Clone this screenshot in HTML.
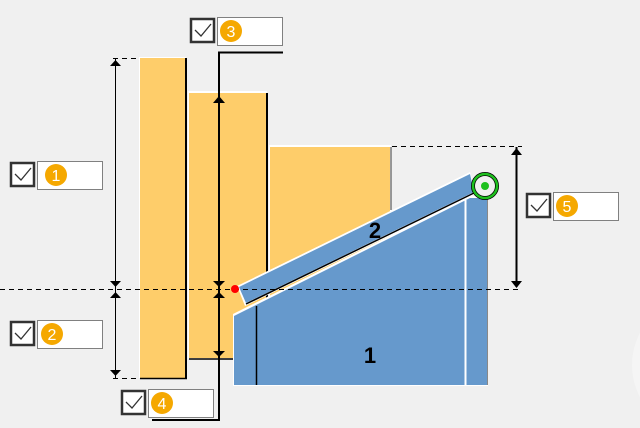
<!DOCTYPE html>
<html><head><style>
html,body{margin:0;padding:0;background:#f0f0f0;}
svg{display:block;font-family:"Liberation Sans",sans-serif;}
</style></head><body>
<svg width="640" height="428" viewBox="0 0 640 428" xmlns="http://www.w3.org/2000/svg">
<rect width="640" height="428" fill="#f0f0f0"/>
<circle cx="700" cy="365" r="68" fill="#f5f5f5"/>
<!-- bars -->
<rect x="139" y="57" width="47" height="321" fill="#fff"/>
<rect x="140" y="58" width="45" height="320" fill="#fecd6a"/>
<line x1="186" y1="58" x2="186" y2="379" stroke="#000" stroke-width="2"/>
<line x1="140" y1="378.5" x2="187" y2="378.5" stroke="#000" stroke-width="1.5"/>
<rect x="188" y="91" width="79" height="268" fill="#fff"/>
<rect x="189" y="93" width="77" height="265" fill="#fecd6a"/>
<line x1="267" y1="93" x2="267" y2="360" stroke="#000" stroke-width="2"/>
<line x1="189" y1="359" x2="268" y2="359" stroke="#000" stroke-width="1.5"/>
<rect x="269" y="145" width="122" height="160" fill="#fff"/>
<rect x="270" y="147" width="120" height="160" fill="#fecd6a"/>
<line x1="391" y1="147" x2="391" y2="210" stroke="#777" stroke-width="1.5"/>
<!-- blue block 1 -->
<polygon points="233,314 470,196 488,196 488,386 233,386" fill="#fff"/>
<polygon points="234,316 470,198 487,198 487,385 234,385" fill="#6699cc"/>
<line x1="256.5" y1="306" x2="256.5" y2="385" stroke="#000" stroke-width="1.5"/>
<line x1="465.5" y1="200" x2="465.5" y2="385" stroke="#fff" stroke-width="2"/>
<line x1="487.5" y1="196" x2="487.5" y2="385" stroke="#888" stroke-width="1"/>
<!-- piece 2 -->
<polygon points="237,286 470,172 476,194 245,306" fill="#fff"/>
<polygon points="239,287 470,174 474,192 246,303" fill="#6699cc"/>
<line x1="246" y1="304" x2="474" y2="193" stroke="#000" stroke-width="1.5"/>
<text x="375" y="238" font-size="22" font-weight="bold" text-anchor="middle" fill="#000">2</text>
<text x="370" y="363" font-size="22" font-weight="bold" text-anchor="middle" fill="#000">1</text>
<!-- dashed lines -->
<line x1="0" y1="289.5" x2="522" y2="289.5" stroke="#000" stroke-dasharray="5,4"/>
<line x1="113" y1="58.5" x2="140" y2="58.5" stroke="#000" stroke-dasharray="5,4"/>
<line x1="113" y1="378.5" x2="140" y2="378.5" stroke="#000" stroke-dasharray="5,4"/>
<line x1="392" y1="146.5" x2="522" y2="146.5" stroke="#000" stroke-dasharray="5,4"/>
<!-- dim line 1 -->
<line x1="115.5" y1="58" x2="115.5" y2="378" stroke="#000" stroke-width="1"/>
<g fill="#000">
<polygon points="115.5,60 110,66 121,66"/>
<polygon points="115.5,287 110,281 121,281"/>
<polygon points="115.5,292 110,298 121,298"/>
<polygon points="115.5,376 110,370 121,370"/>
</g>
<!-- dim line 2 -->
<polyline points="283,52.5 219,52.5 219,420 152,420" fill="none" stroke="#000" stroke-width="2"/>
<g fill="#000">
<polygon points="219,96 213,103 225,103"/>
<polygon points="219,287 213,281 225,281"/>
<polygon points="219,292 213,298 225,298"/>
<polygon points="219,357 213,351 225,351"/>
</g>
<!-- dim line right -->
<line x1="516.5" y1="147" x2="516.5" y2="287" stroke="#000" stroke-width="2"/>
<g fill="#000">
<polygon points="516.5,148 511,155 522,155"/>
<polygon points="516.5,288 511,281 522,281"/>
</g>
<!-- red dot & target -->
<circle cx="235" cy="289" r="4" fill="#f00"/>
<circle cx="485" cy="186" r="12" fill="none" stroke="#000" stroke-width="4"/>
<circle cx="485" cy="186" r="12" fill="none" stroke="#1ec01e" stroke-width="2.5"/>
<circle cx="485" cy="186" r="4" fill="#1ec01e"/>
<!-- labels -->
<g id="l1">
<rect x="11" y="163" width="23" height="23" fill="#fff" stroke="#333" stroke-width="2.5"/>
<polyline points="15,174 21,180 31,168" fill="none" stroke="#333" stroke-width="1.3"/>
<rect x="37.5" y="161.5" width="65" height="28" fill="#fff" stroke="#808080"/>
<circle cx="56" cy="175" r="11" fill="#f5a800"/>
<text x="56" y="181" font-size="16" fill="#fff" text-anchor="middle">1</text>
</g>
<g transform="translate(0,159)">
<rect x="11" y="163" width="23" height="23" fill="#fff" stroke="#333" stroke-width="2.5"/>
<polyline points="15,174 21,180 31,168" fill="none" stroke="#333" stroke-width="1.3"/>
<rect x="37.5" y="161.5" width="65" height="28" fill="#fff" stroke="#808080"/>
<circle cx="52" cy="175" r="11" fill="#f5a800"/>
<text x="52" y="181" font-size="16" fill="#fff" text-anchor="middle">2</text>
</g>
<g transform="translate(180,-144)">
<rect x="11" y="163" width="23" height="23" fill="#fff" stroke="#333" stroke-width="2.5"/>
<polyline points="15,174 21,180 31,168" fill="none" stroke="#333" stroke-width="1.3"/>
<rect x="37.5" y="161.5" width="65" height="28" fill="#fff" stroke="#808080"/>
<circle cx="51" cy="175" r="11" fill="#f5a800"/>
<text x="51" y="181" font-size="16" fill="#fff" text-anchor="middle">3</text>
</g>
<g transform="translate(111,228)">
<rect x="11" y="163" width="23" height="23" fill="#fff" stroke="#333" stroke-width="2.5"/>
<polyline points="15,174 21,180 31,168" fill="none" stroke="#333" stroke-width="1.3"/>
<rect x="37.5" y="161.5" width="65" height="28" fill="#fff" stroke="#808080"/>
<circle cx="51" cy="175" r="11" fill="#f5a800"/>
<text x="51" y="181" font-size="16" fill="#fff" text-anchor="middle">4</text>
</g>
<g transform="translate(516,31)">
<rect x="11" y="163" width="23" height="23" fill="#fff" stroke="#333" stroke-width="2.5"/>
<polyline points="15,174 21,180 31,168" fill="none" stroke="#333" stroke-width="1.3"/>
<rect x="37.5" y="161.5" width="65" height="28" fill="#fff" stroke="#808080"/>
<circle cx="51" cy="175" r="11" fill="#f5a800"/>
<text x="51" y="181" font-size="16" fill="#fff" text-anchor="middle">5</text>
</g>
</svg>
</body></html>
